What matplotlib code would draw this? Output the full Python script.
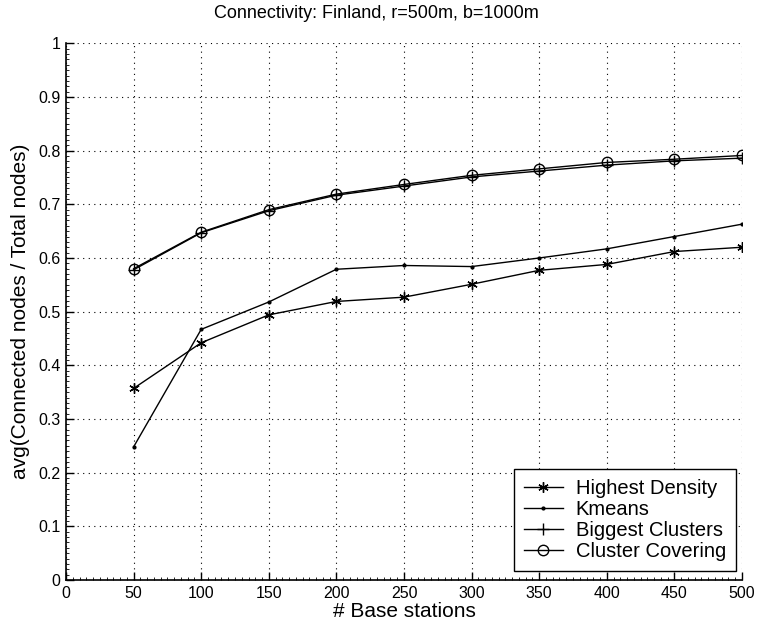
import matplotlib
matplotlib.use("Agg")
import matplotlib.pyplot as plt
from matplotlib.ticker import MultipleLocator

plt.rcParams['font.family'] = ['Liberation Sans', 'DejaVu Sans']

# data
stations = [50, 100, 150, 200, 250, 300, 350, 400, 450, 500]
highest_density = [0.357, 0.442, 0.494, 0.519, 0.527, 0.551, 0.577, 0.588, 0.612, 0.620]
kmeans = [0.248, 0.467, 0.518, 0.579, 0.586, 0.584, 0.600, 0.617, 0.640, 0.663]
biggest_clusters = [0.578, 0.647, 0.688, 0.717, 0.734, 0.751, 0.762, 0.773, 0.781, 0.786]
cluster_covering = [0.580, 0.648, 0.690, 0.719, 0.737, 0.754, 0.766, 0.778, 0.784, 0.791]

xticks = list(range(0, 501, 50))
yticks = [i / 10 for i in range(11)]
ytick_labels = ["0", "0.1", "0.2", "0.3", "0.4", "0.5", "0.6", "0.7", "0.8", "0.9", "1"]

fig = plt.figure(figsize=(7.57, 6.21), dpi=100)
ax = fig.add_axes([66 / 757, 1 - 580 / 621, (742 - 66) / 757, 536.7 / 621])

asterisk = (6, 2, 0)
ax.plot(stations, highest_density, color="black", lw=1, marker=asterisk, ms=7.5, mew=1,
        label="Highest Density")
ax.plot(stations, kmeans, color="black", lw=1, marker=".", ms=4,
        label="Kmeans")
ax.plot(stations, biggest_clusters, color="black", lw=1, marker="+", ms=8, mew=1,
        label="Biggest Clusters")
ax.plot(stations, cluster_covering, color="black", lw=1, marker="o", ms=7.5, mew=1,
        mfc="none", label="Cluster Covering")

ax.set_xlim(0, 500)
ax.set_ylim(0, 1)
ax.set_xticks(xticks)
ax.set_yticks(yticks)
ax.set_yticklabels(ytick_labels)
ax.xaxis.set_minor_locator(MultipleLocator(5))
ax.yaxis.set_minor_locator(MultipleLocator(0.01))
ax.tick_params(which="major", direction="in", labelsize=11.5, length=6, width=1, pad=4)
ax.tick_params(which="minor", direction="in", length=2.5, width=0.6)
ax.grid(True, which="major", linestyle=(0, (1, 4)), color="black", linewidth=0.8)

for side in ["top", "right"]:
    ax.spines[side].set_visible(False)
for side in ["left", "bottom"]:
    ax.spines[side].set_linewidth(1.2)

ax.set_xlabel("# Base stations", fontsize=15, labelpad=1)
ax.set_ylabel("avg(Connected nodes / Total nodes)", fontsize=15, labelpad=6)
# title sits centred on the figure rather than on the axes
ax.set_title("Connectivity: Finland, r=500m, b=1000m", fontsize=13, pad=18,
             x=(376 - 66) / 676)

leg = ax.legend(loc="lower right", bbox_to_anchor=(1 - 6 / 676, 9 / 536.7),
                borderaxespad=0, fontsize=14.5, frameon=True, fancybox=False,
                edgecolor="black", framealpha=1, borderpad=0.5,
                handlelength=1.9, handletextpad=0.65, labelspacing=0.1)
leg.get_frame().set_linewidth(1)

fig.savefig("out.png", dpi=100)
